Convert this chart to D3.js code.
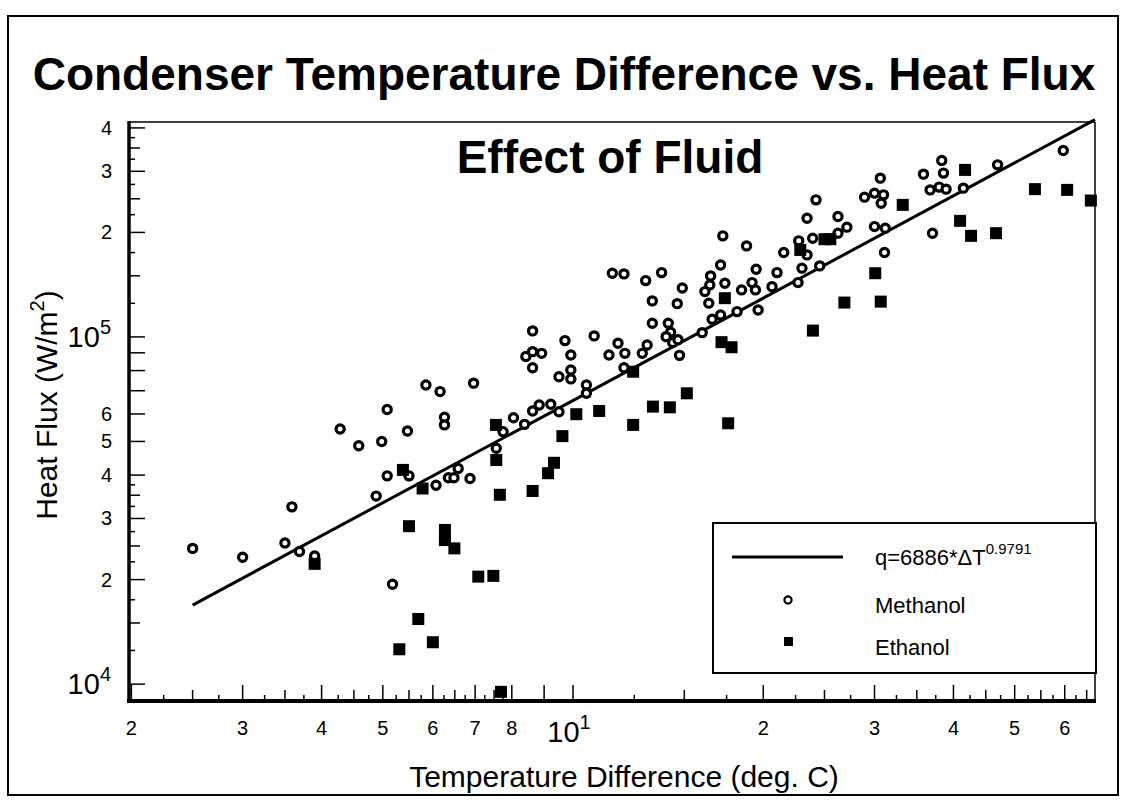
<!DOCTYPE html>
<html>
<head>
<meta charset="utf-8">
<script src="https://cdn.jsdelivr.net/npm/d3@7"></script>
<style>
  body { margin: 0; background: #fff; }
  text { font-family: "Liberation Sans", Arial, sans-serif; fill: #000; }
</style>
</head>
<body>
<svg id="chart" width="1124" height="803"></svg>
<script>
// values
const methanolDT = [2.5, 3.0, 3.5, 3.59, 3.69, 3.9, 4.28, 4.58, 4.88, 4.98, 5.08, 5.08, 5.18, 5.47, 5.5,
  5.85, 6.16, 6.26, 6.26, 6.07, 6.35, 6.48, 6.58, 6.87, 6.96, 7.56, 7.75, 8.05, 8.38, 8.63, 8.84, 9.22,
  9.5, 8.42, 8.63, 8.92, 8.63, 8.63, 9.5, 9.92, 9.92, 9.71, 9.92, 10.5, 10.5, 10.8, 11.4, 11.78, 12.08,
  12.04, 12.87, 13.1, 13.35, 13.35, 14.15, 14.27, 14.04, 14.38, 14.66, 14.74, 14.62, 11.54, 12.04,
  13.03, 13.81, 14.89, 16.01, 16.51, 16.46, 16.17, 16.4, 16.6, 17.12, 17.12, 17.39, 17.26, 18.18,
  18.48, 18.82, 19.2, 19.49, 19.44, 19.63, 20.65, 21.03, 21.55, 22.7, 22.76, 23.46, 23.03, 23.46,
  23.95, 24.24, 24.57, 26.26, 26.26, 27.13, 28.93, 30.0, 30.64, 31.0, 30.74, 30.0, 31.2, 31.11,
  35.86, 38.33, 38.57, 36.74, 37.97, 38.94, 41.47, 37.06, 46.98, 59.68];
const methanolQ = [24600, 23200, 25500, 32400, 24100, 23400, 54300, 48600, 34800, 50000, 61800, 39800,
  19400, 53600, 39800, 72700, 69600, 58700, 55800, 37400, 39300, 39300, 41800, 39100, 73600, 47800,
  53300, 58500, 56000, 61200, 63700, 64000, 60900, 87800, 90700, 89700, 81500, 104100, 76800, 80300,
  75700, 97600, 88700, 72700, 68800, 100700, 88700, 95900, 89700, 81500, 89700, 94800, 109500, 127000,
  109500, 103200, 100200, 96400, 98200, 88500, 124700, 152600, 151900, 145300, 153200, 138400, 102900,
  149900, 141200, 135100, 125100, 112500, 115700, 161200, 142800, 195500, 118300, 136600, 182900,
  143400, 156700, 136600, 119600, 139600, 153200, 175000, 143400, 189100, 172300, 157800, 219800,
  192500, 248200, 160200, 222200, 199000, 207100, 252700, 259500, 286700, 256600, 242800, 207900,
  205700, 175000, 294400, 322200, 296400, 265200, 270100, 266500, 268300, 199000, 313100, 344300];

const ethanolDT = [3.9, 5.38, 5.5, 5.78, 6.27, 6.27, 6.49, 5.69, 6.0, 5.31, 7.08, 7.48, 7.55, 7.56, 7.66,
  7.69, 8.63, 9.13, 9.33, 9.62, 10.12, 11.0, 12.45, 12.45, 13.38, 14.23, 15.14, 17.6, 17.39, 17.18,
  17.82, 22.89, 25.0, 25.54, 23.97, 26.88, 30.69, 30.08, 33.25, 40.98, 42.65, 46.71, 41.73, 53.83,
  60.53, 66.0];
const ethanolQ = [22200, 41400, 28500, 36600, 27800, 26000, 24600, 15400, 13200, 12600, 20400, 20500,
  55800, 44200, 35100, 9500, 36000, 40500, 43400, 51800, 59900, 61200, 79400, 55800, 63000, 62700,
  68800, 56400, 129300, 96600, 93400, 178100, 191200, 191200, 104300, 125600, 126400, 152600, 240100,
  216000, 195500, 199000, 302800, 266500, 265200, 247100];

// power-law fit shown in the legend
const fitCoef = 6886;
const fitExp = 0.9791;
const fitDT = [2.5, 67];

const xDomain = [1.99, 67];
const yDomain = [9000, 416000];
const xLabelTicks = [2, 3, 4, 5, 6, 7, 8, 20, 30, 40, 50, 60];
const xPowerTicks = [10];
const yLabelTicks = [20000, 30000, 40000, 50000, 60000, 200000, 300000, 400000];
const yPowerTicks = [10000, 100000];

const plot = { left: 130, right: 1095, top: 122, bottom: 700 };

const svg = d3.select("#chart");
const x = d3.scaleLog().domain(xDomain).range([plot.left, plot.right]);
const y = d3.scaleLog().domain(yDomain).range([plot.bottom, plot.top]);

// tick sets: integer mantissas long, quarter steps short/medium
function tickSet(domain, decades, quarterMax) {
  const out = [];
  decades.forEach(b => {
    for (let m = 1; m <= 9; m++) {
      out.push({ v: m * b, len: 15 });
      if (m <= quarterMax) {
        out.push({ v: (m + 0.25) * b, len: 5 });
        out.push({ v: (m + 0.5) * b, len: 10 });
        out.push({ v: (m + 0.75) * b, len: 5 });
      }
    }
  });
  return out.filter(t => t.v >= domain[0] && t.v <= domain[1]);
}
const xTicks = tickSet(xDomain, [1, 10], 7);
const yTicks = tickSet(yDomain, [1000, 10000, 100000], 3);

// outer frame
svg.append("rect")
  .attr("x", 8).attr("y", 16).attr("width", 1110).attr("height", 779)
  .attr("fill", "none").attr("stroke", "#000").attr("stroke-width", 2);

svg.append("text")
  .attr("x", 564).attr("y", 90)
  .attr("text-anchor", "middle")
  .style("font-size", "46px").style("font-weight", "bold")
  .text("Condenser Temperature Difference vs. Heat Flux");

// spines
svg.append("line").attr("x1", plot.left).attr("x2", plot.right).attr("y1", plot.top).attr("y2", plot.top)
  .attr("stroke", "#000").attr("stroke-width", 1.5);
svg.append("line").attr("x1", plot.right).attr("x2", plot.right).attr("y1", plot.top).attr("y2", plot.bottom)
  .attr("stroke", "#000").attr("stroke-width", 1.5);
svg.append("line").attr("x1", plot.left - 1).attr("x2", plot.left - 1).attr("y1", plot.top - 1).attr("y2", plot.bottom + 2)
  .attr("stroke", "#000").attr("stroke-width", 3.5);
svg.append("line").attr("x1", plot.left - 3).attr("x2", plot.right + 1).attr("y1", plot.bottom + 1).attr("y2", plot.bottom + 1)
  .attr("stroke", "#000").attr("stroke-width", 4);

svg.append("g").selectAll("line")
  .data(xTicks)
  .enter()
  .append("line")
    .attr("x1", d => x(d.v)).attr("x2", d => x(d.v))
    .attr("y1", plot.bottom).attr("y2", d => plot.bottom - d.len)
    .attr("stroke", "#000").attr("stroke-width", 1.5);

svg.append("g").selectAll("line")
  .data(yTicks)
  .enter()
  .append("line")
    .attr("x1", plot.left).attr("x2", d => plot.left + d.len)
    .attr("y1", d => y(d.v)).attr("y2", d => y(d.v))
    .attr("stroke", "#000").attr("stroke-width", 1.5);

// tick labels
svg.append("g").selectAll("text")
  .data(xLabelTicks)
  .enter()
  .append("text")
    .attr("x", d => x(d)).attr("y", 735)
    .attr("text-anchor", "middle")
    .style("font-size", "20px")
    .text(d => d >= 10 ? d / 10 : d);

xPowerTicks.forEach(v => {
  const t = svg.append("text")
    .attr("x", x(v) - 4).attr("y", 742)
    .attr("text-anchor", "middle")
    .style("font-size", "29px");
  t.append("tspan").text("10");
  t.append("tspan").attr("dy", -13).style("font-size", "20px").text(Math.log10(v));
});

svg.append("g").selectAll("text")
  .data(yLabelTicks)
  .enter()
  .append("text")
    .attr("x", 112).attr("y", d => y(d) + 7)
    .attr("text-anchor", "end")
    .style("font-size", "20px")
    .text(d => d / Math.pow(10, Math.floor(Math.log10(d))));

yPowerTicks.forEach(v => {
  const t = svg.append("text")
    .attr("x", 111).attr("y", y(v) + 10)
    .attr("text-anchor", "end")
    .style("font-size", "29px");
  t.append("tspan").text("10");
  t.append("tspan").attr("dy", -13).style("font-size", "20px").text(Math.log10(v));
});

// axis titles
svg.append("text")
  .attr("x", 624).attr("y", 787)
  .attr("text-anchor", "middle")
  .style("font-size", "30px")
  .text("Temperature Difference (deg. C)");

const yTitle = svg.append("text")
  .attr("transform", "translate(57,405) rotate(-90)")
  .attr("text-anchor", "middle")
  .style("font-size", "30px");
yTitle.append("tspan").text("Heat Flux (W/m");
yTitle.append("tspan").attr("dy", -13).style("font-size", "20px").text("2");
yTitle.append("tspan").attr("dy", 13).text(")");

svg.append("text")
  .attr("x", 610).attr("y", 173)
  .attr("text-anchor", "middle")
  .style("font-size", "46px").style("font-weight", "bold")
  .text("Effect of Fluid");

// fit line
const line = d3.line().x(d => x(d)).y(d => y(fitCoef * Math.pow(d, fitExp)));
svg.append("path")
  .datum(fitDT)
  .attr("d", line)
  .attr("fill", "none").attr("stroke", "#000").attr("stroke-width", 3);

// data
svg.append("g").selectAll("circle")
  .data(d3.zip(methanolDT, methanolQ))
  .enter()
  .append("circle")
    .attr("cx", d => x(d[0])).attr("cy", d => y(d[1]))
    .attr("r", 4.1)
    .attr("fill", "#fff").attr("stroke", "#000").attr("stroke-width", 3.2);

svg.append("g").selectAll("rect")
  .data(d3.zip(ethanolDT, ethanolQ))
  .enter()
  .append("rect")
    .attr("x", d => x(d[0]) - 6).attr("y", d => y(d[1]) - 6)
    .attr("width", 12).attr("height", 12)
    .attr("fill", "#000");

// legend
const lg = svg.append("g");
lg.append("rect")
  .attr("x", 713).attr("y", 523).attr("width", 383).attr("height", 150)
  .attr("fill", "#fff").attr("stroke", "#000").attr("stroke-width", 2);
lg.append("line")
  .attr("x1", 732).attr("x2", 843).attr("y1", 557).attr("y2", 557)
  .attr("stroke", "#000").attr("stroke-width", 3);
lg.append("circle")
  .attr("cx", 788).attr("cy", 600).attr("r", 3.6)
  .attr("fill", "#fff").attr("stroke", "#000").attr("stroke-width", 2.2);
lg.append("rect")
  .attr("x", 784).attr("y", 637).attr("width", 9).attr("height", 9)
  .attr("fill", "#000");

const fitLabel = lg.append("text")
  .attr("x", 875).attr("y", 565)
  .style("font-size", "22px");
fitLabel.append("tspan").text(`q=${fitCoef}*\u0394T`);
fitLabel.append("tspan").attr("dy", -11).style("font-size", "15px").text(fitExp);

lg.append("text").attr("x", 875).attr("y", 613).style("font-size", "22px").text("Methanol");
lg.append("text").attr("x", 875).attr("y", 655).style("font-size", "22px").text("Ethanol");
</script>
</body>
</html>
